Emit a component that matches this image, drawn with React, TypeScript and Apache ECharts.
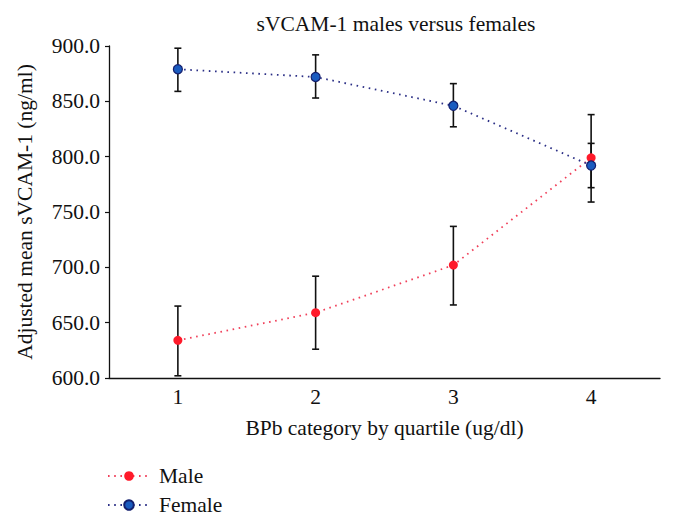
import React, { useEffect, useRef } from "react";
import * as echarts from "echarts";

const categories = ["1", "2", "3", "4"];
const maleMean = [634, 659, 702, 799];
const maleLow = [602, 626, 666, 759];
const maleHigh = [665, 692, 737, 838];
const femaleMean = [879, 872, 846, 792];
const femaleLow = [859, 853, 827, 772];
const femaleHigh = [898, 892, 866, 812];
const yTicks = { min: 600, max: 900, interval: 50 };

const FONT = "Liberation Serif";
const FS = 21.5;

function errorData(low: number[], high: number[]) {
  return categories.map((_, i) => [i, low[i], high[i]]);
}

function renderError(params: any, api: any) {
  const x = api.value(0);
  const lo = api.coord([x, api.value(1)]);
  const hi = api.coord([x, api.value(2)]);
  const cap = 3.5;
  const style = { stroke: "#111", lineWidth: 1.6 };
  return {
    type: "group",
    children: [
      { type: "line", shape: { x1: lo[0], y1: lo[1], x2: hi[0], y2: hi[1] }, style },
      { type: "line", shape: { x1: lo[0] - cap, y1: lo[1], x2: lo[0] + cap, y2: lo[1] }, style },
      { type: "line", shape: { x1: hi[0] - cap, y1: hi[1], x2: hi[0] + cap, y2: hi[1] }, style },
    ],
  };
}

export default function App() {
  const ref = useRef<HTMLDivElement>(null);
  useEffect(() => {
    document.body.style.margin = "0";
    if (!ref.current) return;
    const chart = echarts.init(ref.current, null, { renderer: "svg" });
    chart.setOption({
      animation: false,
      backgroundColor: "#fff",
      textStyle: { fontFamily: FONT },
      title: {
        text: "sVCAM-1 males versus females",
        left: 391,
        textAlign: "center",
        top: 8,
        textStyle: { fontFamily: FONT, fontSize: FS, fontWeight: "normal", color: "#111" },
      },
      legend: {
        orient: "vertical",
        left: 102,
        top: 460,
        itemGap: 7,
        itemWidth: 42,
        itemHeight: 12,
        data: ["Male", "Female"],
        textStyle: { fontFamily: FONT, fontSize: FS, color: "#111", padding: [0, 0, 0, 4] },
      },
      grid: { left: 109, right: 15, top: 46, bottom: 144 },
      xAxis: {
        type: "category",
        data: categories,
        boundaryGap: true,
        name: "BPb category by quartile (ug/dl)",
        nameLocation: "middle",
        nameGap: 39,
        nameTextStyle: { fontFamily: FONT, fontSize: FS, color: "#111" },
        axisLine: { lineStyle: { color: "#111", width: 1.3 } },
        axisTick: { length: 4, lineStyle: { color: "#111", width: 1.2 } },
        axisLabel: { fontFamily: FONT, fontSize: FS, color: "#111", margin: 8 },
        splitLine: { show: false },
      },
      yAxis: {
        type: "value",
        min: yTicks.min,
        max: yTicks.max,
        interval: yTicks.interval,
        name: "Adjusted mean sVCAM-1 (ng/ml)",
        nameLocation: "middle",
        nameGap: 73,
        nameTextStyle: { fontFamily: FONT, fontSize: FS, color: "#111" },
        axisLine: { show: true, lineStyle: { color: "#111", width: 1.3 } },
        axisTick: { show: true, length: 4, lineStyle: { color: "#111", width: 1.2 } },
        axisLabel: {
          fontFamily: FONT,
          fontSize: FS,
          color: "#111",
          margin: 9,
          formatter: (v: number) => v.toFixed(1),
        },
        splitLine: { show: false },
      },
      series: [
        {
          name: "MaleErr",
          type: "custom",
          renderItem: renderError,
          data: errorData(maleLow, maleHigh),
          z: 1,
          silent: true,
        },
        {
          name: "FemaleErr",
          type: "custom",
          renderItem: renderError,
          data: errorData(femaleLow, femaleHigh),
          z: 1,
          silent: true,
        },
        {
          name: "Male",
          type: "line",
          data: maleMean,
          symbol: "circle",
          symbolSize: 9,
          z: 3,
          lineStyle: { color: "#f0405a", width: 1.8, type: [1.6, 4.6] },
          itemStyle: { color: "#ff1a2a", borderWidth: 0 },
        },
        {
          name: "Female",
          type: "line",
          data: femaleMean,
          symbol: "circle",
          symbolSize: 9,
          z: 4,
          lineStyle: { color: "#2b2f86", width: 1.8, type: [1.6, 4.6] },
          itemStyle: { color: "#1a5bbf", borderColor: "#14206e", borderWidth: 1.2 },
        },
      ],
    });
    return () => chart.dispose();
  }, []);
  return <div ref={ref} style={{ width: 675, height: 522 }} />;
}
